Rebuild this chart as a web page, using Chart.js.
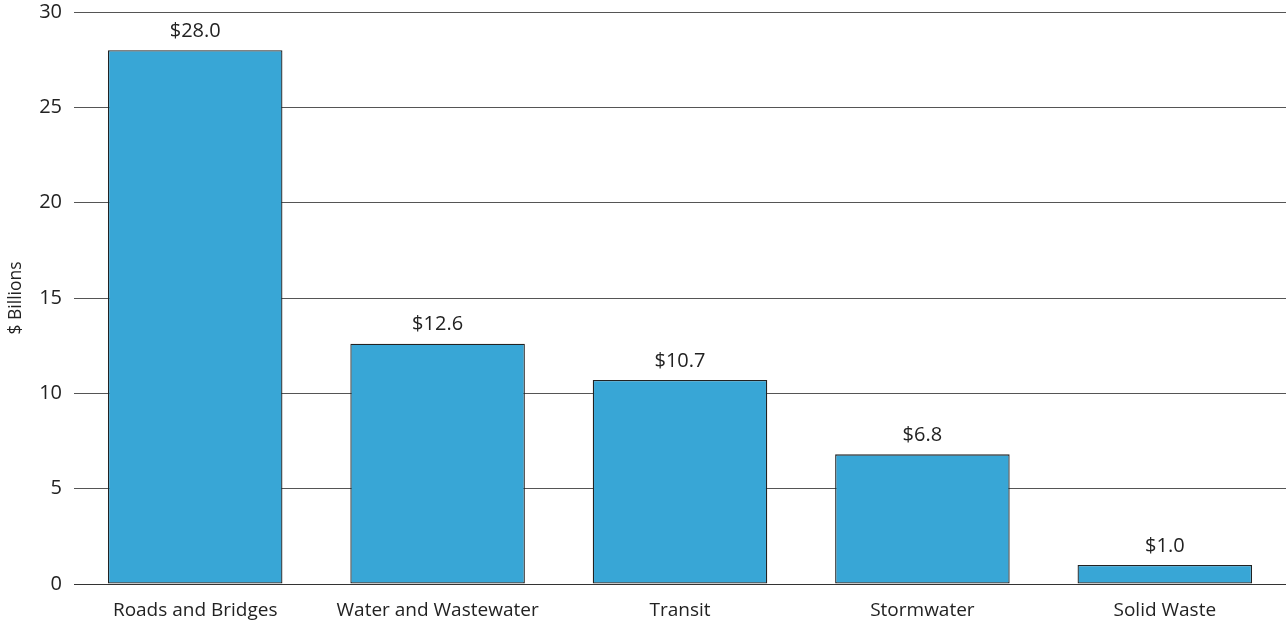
<!DOCTYPE html>
<html>
<head>
<meta charset="utf-8">
<script src="https://cdn.jsdelivr.net/npm/chart.js@4"></script>
<style>
  html, body { margin: 0; padding: 0; background: #fff; }
  .wrap { width: 1286px; height: 620px; position: relative; }
</style>
</head>
<body>
<div class="wrap"><canvas id="spendChart"></canvas></div>
<script>
const categories = ['Roads and Bridges', 'Water and Wastewater', 'Transit', 'Stormwater', 'Solid Waste'];
const spending = [28.0, 12.6, 10.7, 6.8, 1.0];
const yTicks = [0, 5, 10, 15, 20, 25, 30];

const FONT = '"Open Sans", "DejaVu Sans", sans-serif';

// draws the "$xx.x" labels above each bar
const valueLabels = {
  id: 'valueLabels',
  afterDatasetsDraw(chart) {
    const { ctx } = chart;
    const meta = chart.getDatasetMeta(0);
    ctx.save();
    ctx.font = `20px ${FONT}`;
    ctx.fillStyle = '#222';
    ctx.textAlign = 'center';
    ctx.textBaseline = 'bottom';
    meta.data.forEach((bar, i) => {
      ctx.fillText(`$${spending[i].toFixed(1)}`, bar.x, bar.y - 9);
    });
    ctx.restore();
  },
};

new Chart(document.getElementById('spendChart'), {
  type: 'bar',
  data: {
    labels: categories,
    datasets: [
      {
        data: spending,
        backgroundColor: '#38a6d6',
        borderColor: '#222',
        borderWidth: 1.3,
        borderSkipped: false,
        categoryPercentage: 1,
        barPercentage: 0.72,
      },
    ],
  },
  options: {
    responsive: true,
    maintainAspectRatio: false,
    animation: false,
    layout: { padding: { top: 12, left: 0, right: 0, bottom: 0 } },
    plugins: {
      legend: { display: false },
      tooltip: { enabled: false },
    },
    scales: {
      x: {
        grid: { display: false },
        border: { display: false },
        ticks: { color: '#222', font: { family: FONT, size: 19 }, padding: 7 },
        afterFit: (scale) => { scale.height = 36; },
      },
      y: {
        min: 0,
        max: 30,
        afterBuildTicks: (scale) => { scale.ticks = yTicks.map(v => ({ value: v })); },
        border: { display: false },
        grid: {
          color: (c) => (c.tick && c.tick.value === 0 ? '#333' : '#555'),
          lineWidth: 1,
          drawTicks: false,
        },
        ticks: { color: '#222', font: { family: FONT, size: 20 }, padding: 12 },
        title: {
          display: true,
          text: '$ Billions',
          color: '#222',
          font: { family: FONT, size: 17.5 },
          padding: { top: 6, bottom: 2 },
        },
        afterFit: (scale) => {
          scale.width = 74;
          scale.paddingTop = 0;
          scale.paddingBottom = 0;
        },
      },
    },
  },
  plugins: [valueLabels],
});
</script>
</body>
</html>
